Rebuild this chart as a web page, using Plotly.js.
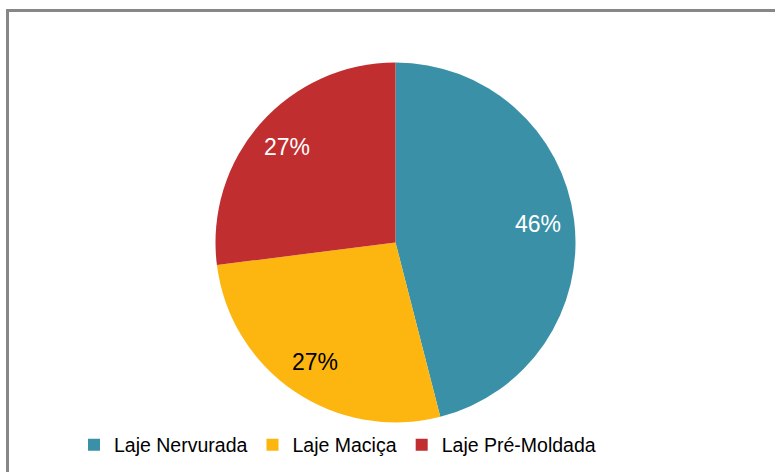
<!DOCTYPE html>
<html>
<head>
<meta charset="utf-8">
<script src="https://cdn.plot.ly/plotly-3.0.1.min.js"></script>
<style>html,body{margin:0;padding:0;background:#fff;}#chart{width:775px;height:472px;}</style>
</head>
<body>
<div id="chart"></div>
<script>
const categories = ["Laje Nervurada", "Laje Maciça", "Laje Pré-Moldada"];
const values = [46, 27, 27];
const colors = ["#3A91A7", "#FDB60F", "#C12E2F"];
const labelColors = ["#ffffff", "#000000", "#ffffff"];

const W = 775, H = 472;
const cx = 395.5, cy = 242.5, R = 180;
const dom = {
  x: [(cx - R) / W, (cx + R) / W],
  y: [(H - cy - R) / H, (H - cy + R) / H]
};

const total = values.reduce((a, b) => a + b, 0);
let cum = 0;
const annotations = values.map((v, i) => {
  const mid = (cum + v / 2) / total;
  cum += v;
  const th = 2 * Math.PI * mid;
  const r = 0.8 * R;
  return {
    x: (cx + r * Math.sin(th)) / W,
    y: (H - cy + r * Math.cos(th)) / H,
    xref: "paper", yref: "paper",
    text: Math.round(v / total * 100) + "%",
    showarrow: false,
    font: {family: "Liberation Sans, Arial, sans-serif", size: 23, color: labelColors[i]},
    xanchor: "center", yanchor: "middle"
  };
});

const data = [{
  type: "pie",
  labels: categories,
  values: values,
  marker: {colors: colors, line: {width: 0}},
  sort: false,
  direction: "clockwise",
  rotation: 0,
  textinfo: "none",
  hoverinfo: "label+percent",
  domain: dom
}];

const layout = {
  width: W, height: H,
  margin: {l: 0, r: 0, t: 0, b: 0, autoexpand: false},
  paper_bgcolor: "#ffffff",
  plot_bgcolor: "#ffffff",
  showlegend: true,
  legend: {
    orientation: "h",
    x: 74 / W, xanchor: "left",
    y: 27 / H, yanchor: "middle",
    font: {family: "Liberation Sans, Arial, sans-serif", size: 19.5, color: "#000000"},
    bgcolor: "rgba(0,0,0,0)",
    traceorder: "normal"
  },
  annotations: annotations,
  shapes: [{
    type: "rect", xref: "paper", yref: "paper",
    x0: 7.5 / W, x1: 1.02, y0: -0.02, y1: (H - 10.5) / H,
    line: {color: "#878787", width: 3},
    fillcolor: "rgba(0,0,0,0)",
    layer: "below"
  }]
};

Plotly.newPlot("chart", data, layout, {displayModeBar: false, staticPlot: true});
</script>
</body>
</html>
